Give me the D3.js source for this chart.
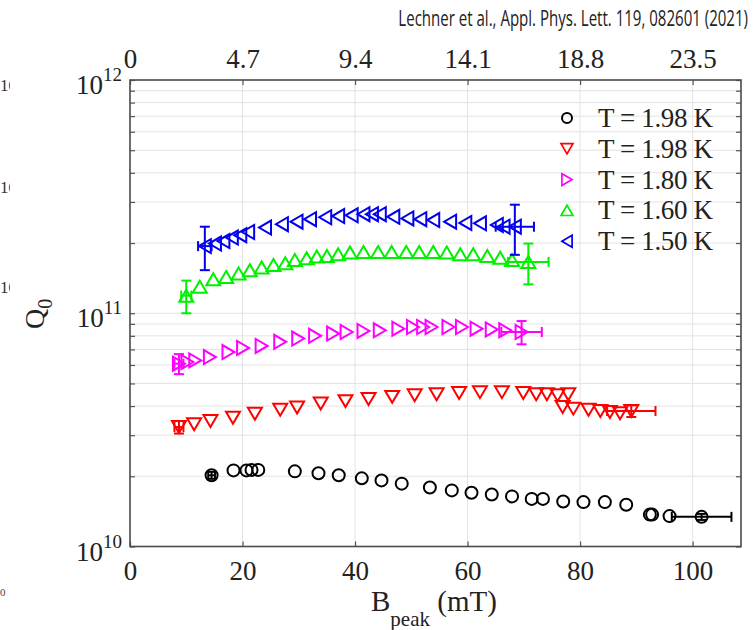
<!DOCTYPE html>
<html>
<head>
<meta charset="utf-8">
<script src="https://cdn.jsdelivr.net/npm/d3@7"></script>
<style>
  body { margin: 0; background: #fff; }
  svg { display: block; }
  .tick text { font-family: "Liberation Serif", "DejaVu Serif", serif; }
</style>
</head>
<body>
<script>
// tick values
var bTicks = [0, 20, 40, 60, 80, 100];
var eTicks = [0, 4.7, 9.4, 14.1, 18.8, 23.5];
var decades = [10, 11, 12];
var legendLabels = ["T = 1.98 K", "T = 1.98 K", "T = 1.80 K", "T = 1.60 K", "T = 1.50 K"];

// series: B_peak (mT) and Q0
var blackB = [14.5, 18.4, 20.7, 21.6, 22.8, 29.3, 33.5, 37.1, 41.2, 44.7, 48.3, 53.3, 57.2, 60.7, 64.3, 67.9, 71.4, 73.4, 77.0, 80.6, 84.4, 88.2, 92.4, 92.8, 95.9, 101.6];
var blackQ = [2.02, 2.12, 2.12, 2.13, 2.13, 2.10, 2.06, 2.02, 1.96, 1.92, 1.86, 1.79, 1.74, 1.70, 1.67, 1.64, 1.60, 1.60, 1.56, 1.55, 1.55, 1.51, 1.37, 1.37, 1.35, 1.34].map(function(v) { return v * 1e10; });

var redB = [8.7, 11.4, 14.3, 18.3, 22.2, 26.7, 29.7, 33.9, 38.3, 42.4, 46.6, 50.6, 54.5, 58.5, 62.2, 66.1, 69.9, 72.2, 74.1, 76.0, 77.9, 76.9, 78.8, 81.5, 83.6, 85.3, 87.1, 89.1];
var redQ = [3.25, 3.34, 3.45, 3.56, 3.71, 3.86, 3.94, 4.10, 4.20, 4.29, 4.38, 4.45, 4.49, 4.55, 4.59, 4.59, 4.55, 4.49, 4.49, 4.45, 4.49, 3.96, 3.90, 3.86, 3.81, 3.77, 3.73, 3.81].map(function(v) { return v * 1e10; });

var magB = [8.7, 10.2, 11.6, 14.2, 17.5, 20.1, 23.4, 26.7, 29.9, 32.9, 36.1, 38.5, 41.5, 44.4, 47.7, 50.3, 52.1, 53.6, 56.6, 59.0, 61.6, 64.3, 66.7, 69.6];
var magQ = [6.08, 6.18, 6.28, 6.49, 6.82, 7.10, 7.24, 7.54, 7.79, 8.00, 8.18, 8.31, 8.40, 8.45, 8.59, 8.73, 8.73, 8.73, 8.73, 8.73, 8.59, 8.52, 8.45, 8.31].map(function(v) { return v * 1e10; });

var greenB = [10.0, 12.4, 14.8, 17.1, 19.3, 21.3, 23.4, 25.5, 27.6, 29.3, 31.4, 33.2, 35.0, 37.0, 39.1, 41.5, 44.1, 46.5, 49.1, 51.4, 53.9, 56.3, 58.7, 61.0, 63.5, 65.8, 67.9, 70.8];
var greenQ = [1.19, 1.30, 1.40, 1.43, 1.48, 1.53, 1.57, 1.61, 1.64, 1.69, 1.72, 1.75, 1.76, 1.79, 1.82, 1.83, 1.83, 1.83, 1.83, 1.83, 1.83, 1.82, 1.79, 1.79, 1.76, 1.73, 1.69, 1.66].map(function(v) { return v * 1e11; });

var blueB = [13.3, 15.1, 16.6, 18.1, 19.6, 21.0, 24.0, 27.0, 29.6, 32.0, 34.7, 37.0, 39.4, 41.5, 43.0, 44.4, 46.8, 49.3, 51.6, 53.9, 56.9, 59.6, 62.2, 65.2, 66.4, 68.4];
var blueQ = [1.94, 1.99, 2.04, 2.11, 2.16, 2.23, 2.33, 2.41, 2.47, 2.53, 2.58, 2.61, 2.63, 2.66, 2.66, 2.66, 2.59, 2.55, 2.53, 2.51, 2.47, 2.44, 2.43, 2.39, 2.35, 2.35].map(function(v) { return v * 1e11; });

// error bars: [B, Q, dB, dQ]
var blackErr = [[14.5, 2.02e10, 0.6, 0.07e10], [101.6, 1.34e10, 5.3, 0.04e10]];
var redErr = [[8.7, 3.25e10, 0.8, 0.2e10], [89.1, 3.81e10, 4.3, 0.22e10]];
var magErr = [[8.7, 6.08e10, 0.8, 0.6e10], [69.6, 8.31e10, 3.6, 0.95e10]];
var greenErr = [[10.0, 1.19e11, 0.9, 0.19e11], [70.8, 1.66e11, 3.6, 0.33e11]];
var blueErr = [[13.3, 1.94e11, 1.2, 0.41e11], [68.4, 2.35e11, 3.4, 0.57e11]];

var W = 753, H = 630;
var margin = {top: 80, left: 130},
    width = 611,
    height = 466.5;

var svg = d3.select("body").append("svg")
    .attr("width", W)
    .attr("height", H);

var serif = "'Liberation Serif', 'DejaVu Serif', serif";

// scales
var x = d3.scaleLinear().domain([0, 108.6]).range([0, width]);
var xTop = d3.scaleLinear().domain([0, 108.6 * 0.235]).range([0, width]);
var y = d3.scaleLog().domain([1e10, 1e12]).range([height, 0]);

var minorVals = [];
[10, 11].forEach(function(d) {
  for (var m = 1; m < 10; m++) minorVals.push(m * Math.pow(10, d));
});
minorVals.push(1e12);

var g = svg.append("g")
    .attr("transform", "translate(" + margin.left + "," + margin.top + ")");

// grid
g.append("g").selectAll("line").data(minorVals.filter(function(v) { return v > 1e10 && v < 1e12; }))
  .enter().append("line")
    .attr("x1", 0).attr("x2", width)
    .attr("y1", function(d) { return y(d); })
    .attr("y2", function(d) { return y(d); })
    .attr("stroke", "#e3e3e3").attr("stroke-width", 1);

g.append("g").selectAll("line").data(bTicks.slice(1))
  .enter().append("line")
    .attr("x1", function(d) { return x(d); })
    .attr("x2", function(d) { return x(d); })
    .attr("y1", 0).attr("y2", height)
    .attr("stroke", "#e3e3e3").attr("stroke-width", 1);

// axes (ticks pointing inward)
var xAxis = d3.axisBottom(x).tickValues(bTicks).tickSizeInner(-5).tickSizeOuter(0).tickPadding(16);
var xAxisTop = d3.axisTop(xTop).tickValues(eTicks).tickSizeInner(-5).tickSizeOuter(0).tickPadding(16)
    .tickFormat(function(d) { return d === 0 ? "0" : d3.format(".1f")(d); });
var yAxis = d3.axisLeft(y).tickValues(minorVals).tickSizeInner(-5).tickSizeOuter(0).tickFormat("");
var yAxisR = d3.axisRight(y).tickValues(minorVals).tickSizeInner(-5).tickSizeOuter(0).tickFormat("");

function styleAxis(sel) {
  sel.select(".domain").remove();
  sel.selectAll(".tick line").attr("stroke", "#555").attr("stroke-width", 1.2);
  sel.selectAll(".tick text").attr("fill", "#222").style("font-size", "27px");
}

g.append("g").attr("transform", "translate(0," + height + ")").call(xAxis).call(styleAxis)
  .selectAll(".tick text").attr("dy", "0.71em").attr("y", 14);
g.append("g").call(xAxisTop).call(styleAxis)
  .selectAll(".tick text").attr("y", -12).attr("dy", 0);
g.append("g").call(yAxis).call(styleAxis);
g.append("g").attr("transform", "translate(" + width + ",0)").call(yAxisR).call(styleAxis);

// y labels 10^n
var yLab = g.append("g").selectAll("text").data(decades).enter().append("text")
    .attr("x", -8)
    .attr("y", function(d) { return y(Math.pow(10, d)) + 14; })
    .attr("text-anchor", "end")
    .attr("fill", "#222")
    .style("font-family", serif)
    .style("font-size", "27px");
yLab.append("tspan").text("10");
yLab.append("tspan").attr("dy", -13).style("font-size", "19px").text(function(d) { return d; });

// frame
g.append("rect")
    .attr("width", width).attr("height", height)
    .attr("fill", "none").attr("stroke", "#4a4a4a").attr("stroke-width", 1.6);

// markers
var shapes = {
  circle: function(s) { return "M" + (-s) + ",0A" + s + "," + s + " 0 1,0 " + s + ",0A" + s + "," + s + " 0 1,0 " + (-s) + ",0Z"; },
  down: function(s) { return "M-7,-6L7,-6L0,6Z"; },
  up: function(s) { return "M-7,6L7,6L0,-6Z"; },
  right: function(s) { return "M-6,-7L-6,7L6,0Z"; },
  left: function(s) { return "M6,-7L6,7L-6,0Z"; }
};

var series = [
  {B: blackB, Q: blackQ, err: blackErr, color: "#000000", shape: "circle"},
  {B: redB, Q: redQ, err: redErr, color: "#ff0000", shape: "down"},
  {B: magB, Q: magQ, err: magErr, color: "#ff00ff", shape: "right"},
  {B: greenB, Q: greenQ, err: greenErr, color: "#00f000", shape: "up"},
  {B: blueB, Q: blueQ, err: blueErr, color: "#0000ee", shape: "left"}
];

series.forEach(function(s) {
  var sg = g.append("g");
  // error bars
  s.err.forEach(function(e) {
    var cx = x(e[0]), cy = y(e[1]);
    var x0 = x(e[0] - e[2]), x1 = x(e[0] + e[2]);
    var y0 = y(e[1] - e[3]), y1 = y(e[1] + e[3]);
    var segs = [[x0, cy, x1, cy], [cx, y0, cx, y1],
                [cx - 5, y0, cx + 5, y0], [cx - 5, y1, cx + 5, y1],
                [x0, cy - 5, x0, cy + 5], [x1, cy - 5, x1, cy + 5]];
    segs.forEach(function(l) {
      sg.append("line")
        .attr("x1", l[0]).attr("y1", l[1]).attr("x2", l[2]).attr("y2", l[3])
        .attr("stroke", s.color).attr("stroke-width", 2);
    });
  });
  sg.selectAll("path").data(s.B.map(function(b, i) { return [b, s.Q[i]]; }))
    .enter().append("path")
      .attr("transform", function(d) { return "translate(" + x(d[0]) + "," + y(d[1]) + ")"; })
      .attr("d", shapes[s.shape](6))
      .attr("fill", "none")
      .attr("stroke", s.color)
      .attr("stroke-width", 2);
});

// legend
var leg = g.append("g").attr("transform", "translate(437,38)");
legendLabels.forEach(function(t, i) {
  var row = leg.append("g").attr("transform", "translate(0," + (i * 30.8) + ")");
  var sh = series[i].shape;
  row.append("path")
    .attr("d", sh === "circle" ? shapes.circle(5) : shapes[sh](6))
    .attr("transform", sh === "circle" ? null : "scale(0.85)")
    .attr("fill", "none").attr("stroke", series[i].color).attr("stroke-width", 2);
  row.append("text")
    .attr("x", 31).attr("y", 9)
    .attr("fill", "#222")
    .style("font-family", serif)
    .style("font-size", "27px")
    .attr("textLength", 115).attr("lengthAdjust", "spacing")
    .text(t);
});

// axis titles
var xt = svg.append("text")
    .attr("x", 371).attr("y", 611)
    .attr("fill", "#222")
    .style("font-family", serif)
    .style("font-size", "29px");
xt.append("tspan").text("B");
xt.append("tspan").attr("dy", 15).style("font-size", "21px").text("peak");
xt.append("tspan").attr("dy", -15).text("  (mT)");

var yt = svg.append("text")
    .attr("transform", "translate(44,329) rotate(-90)")
    .attr("fill", "#222")
    .style("font-family", serif)
    .style("font-size", "28px");
yt.append("tspan").text("Q");
yt.append("tspan").attr("dy", 8).style("font-size", "20px").text("0");

// citation, squeezed horizontally to the reference width
var cite = svg.append("g").attr("transform", "translate(748,26)");
var citeText = cite.append("text")
    .attr("text-anchor", "end")
    .attr("fill", "#222")
    .style("font-family", "'Open Sans', 'Noto Sans', sans-serif")
    .style("font-size", "21px")
    .text("Lechner et al., Appl. Phys. Lett. 119, 082601 (2021)");
var cw = citeText.node().getComputedTextLength();
cite.attr("transform", "translate(748,26) scale(" + (350 / cw) + ",1)");

// fragments of neighbouring figure at left edge
svg.append("clipPath").attr("id", "edge").append("rect")
    .attr("x", 0).attr("y", 0).attr("width", 10).attr("height", H);
var frag = svg.append("g").attr("clip-path", "url(#edge)")
    .attr("fill", "#333").style("font-family", serif).style("font-size", "17px");
[91, 193, 293].forEach(function(yy) {
  frag.append("text").attr("x", 0).attr("y", yy).text("10");
});
svg.append("text").attr("x", 0).attr("y", 596)
    .attr("fill", "#444").style("font-family", serif).style("font-size", "11px").text("0");
</script>
</body>
</html>
